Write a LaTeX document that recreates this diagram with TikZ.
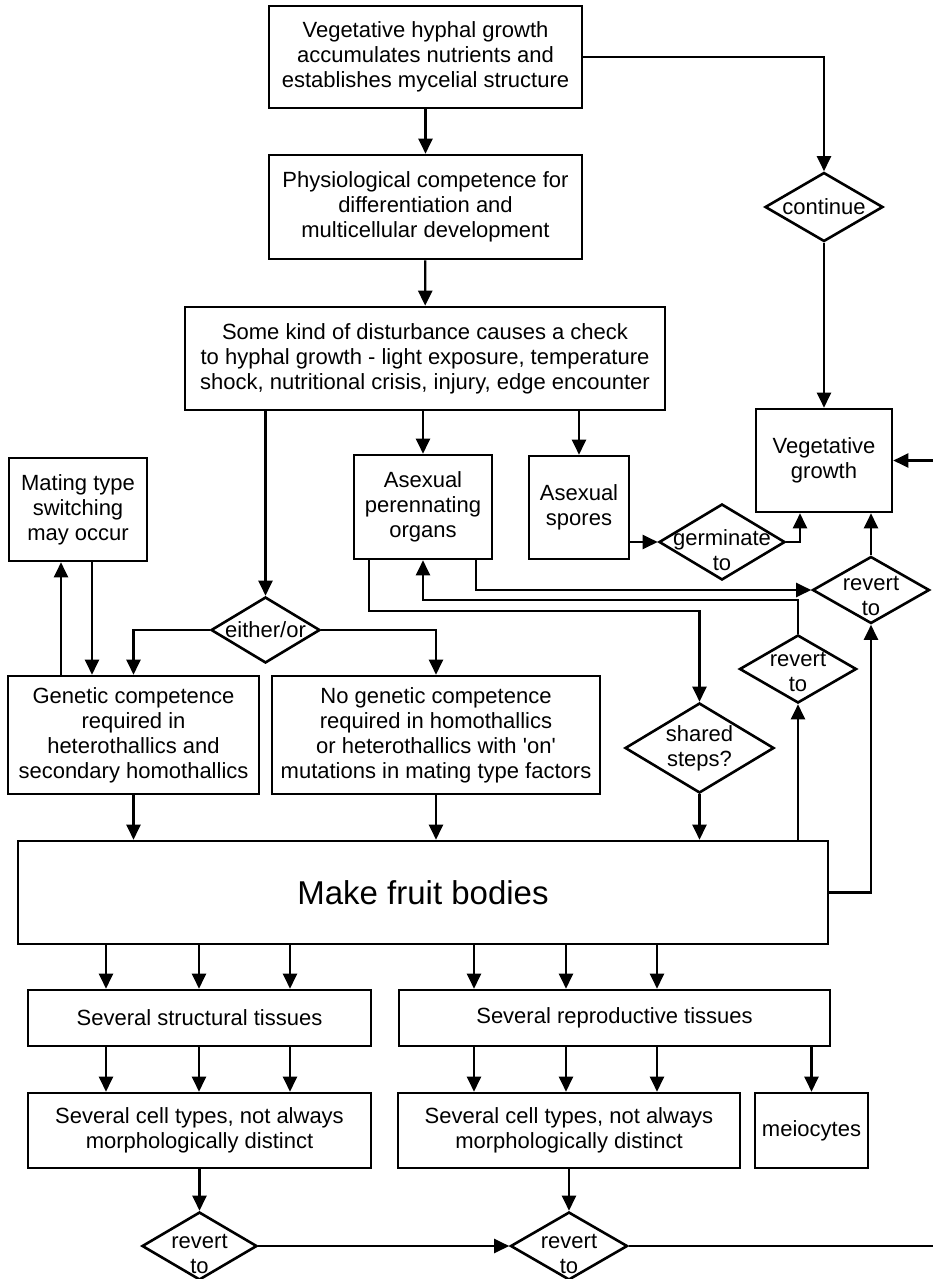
\documentclass[tikz,border=0pt]{standalone}
\usepackage{fontspec}
\setmainfont{Liberation Sans}
\usetikzlibrary{shapes.geometric,arrows.meta}

\begin{document}
\begin{tikzpicture}[x=1pt,y=-1pt,
        font=\fontsize{22}{25}\selectfont,
        box/.style={draw,line width=2.6pt,align=center,inner sep=0pt},
        choice/.style={draw,diamond,line width=2.6pt,inner sep=0pt},
        link/.style={line width=2.2pt,-{Triangle[length=15pt,width=14pt]}},
        every label/.style={align=center,inner sep=0pt}]
    \useasboundingbox (0,0) rectangle (933,1279);
    \clip (0,0) rectangle (933,1279);

    \node[box,minimum width=313pt,minimum height=102pt] (vhg) at (425.5,57) {Vegetative hyphal growth\\accumulates nutrients and\\establishes mycelial structure};
    \node[box,minimum width=313pt,minimum height=104pt] (phys) at (425.5,207) {Physiological competence for\\differentiation and\\multicellular development};
    \node[box,minimum width=480pt,minimum height=103pt] (dist) at (425,358.5) {Some kind of disturbance causes a check\\to hyphal growth - light exposure, temperature\\shock, nutritional crisis, injury, edge encounter};
    \node[box,minimum width=138pt,minimum height=104pt] (perenn) at (423,507) {Asexual\\perennating\\organs};
    \node[box,minimum width=100pt,minimum height=103pt] (spores) at (579,507.5) {Asexual\\spores};
    \node[box,minimum width=136pt,minimum height=103pt] (veg) at (824,460.5) {Vegetative\\growth};
    \node[box,minimum width=138pt,minimum height=103pt] (mating) at (78,509.5) {Mating type\\switching\\may occur};
    \node[box,minimum width=251pt,minimum height=118pt] (gen) at (133.5,735) {Genetic competence\\required in\\heterothallics and\\secondary homothallics};
    \node[box,minimum width=328pt,minimum height=118pt] (nogen) at (436,735) {No genetic competence\\required in homothallics\\or heterothallics with \textquotesingle on\textquotesingle\\mutations in mating type factors};
    \node[box,minimum width=810pt,minimum height=103pt,font=\fontsize{33}{38}\selectfont] (fruit) at (423,892.5) {Make fruit bodies};
    \node[box,minimum width=343pt,minimum height=56pt] (struct) at (199.5,1018) {Several structural tissues};
    \node[box,minimum width=431pt,minimum height=56pt] (repro) at (614.5,1018) {Several reproductive tissues};
    \node[box,minimum width=343pt,minimum height=75pt] (cellA) at (199.5,1130.5) {Several cell types, not always\\morphologically distinct};
    \node[box,minimum width=342pt,minimum height=75pt] (cellB) at (569,1130.5) {Several cell types, not always\\morphologically distinct};
    \node[box,minimum width=113pt,minimum height=75pt] (meio) at (811.5,1130.5) {meiocytes};

    \node[choice,minimum width=118pt,minimum height=69pt,label=center:continue] (cont) at (824,207) {};
    \node[choice,minimum width=126pt,minimum height=76pt,label={[yshift=-8pt]center:germinate\\to}] (germ) at (722,542) {};
    \node[choice,minimum width=117pt,minimum height=67pt,label={[yshift=-6pt]center:revert\\to}] (revA) at (871,590) {};
    \node[choice,minimum width=117pt,minimum height=68pt,label={[yshift=-3pt]center:revert\\to}] (revB) at (798,669) {};
    \node[choice,minimum width=149pt,minimum height=90pt,label={center:shared\\steps?}] (shared) at (699.5,748) {};
    \node[choice,minimum width=109pt,minimum height=66pt,label=center:either/or] (either) at (265.5,630) {};
    \node[choice,minimum width=115pt,minimum height=68pt,label={[yshift=-8pt]center:revert\\to}] (revC) at (199.5,1246) {};
    \node[choice,minimum width=117pt,minimum height=68pt,label={[yshift=-8pt]center:revert\\to}] (revD) at (569,1246) {};
    \coordinate (vegin) at (940,460.5);
    \coordinate (revout) at (940,1246);

    \draw[link] (vhg) -- (phys);
    \draw[link] (phys) -- (dist);
    \draw[link] (vhg.east) -| (cont.north);
    \draw[link] (cont) -- (veg);
    \draw[link] (dist.south -| either) -- (either);
    \draw[link] (dist.south -| perenn) -- (perenn);
    \draw[link] (dist.south -| spores) -- (spores);
    \draw[link] (either.west) -| (gen.north);
    \draw[link] (either.east) -| (nogen.north);
    \draw[link] (61,0 |- gen.north) -- (61,0 |- mating.south);
    \draw[link] (92,0 |- mating.south) -- (92,0 |- gen.north);
    \draw[link] (gen) -- (gen |- fruit.north);
    \draw[link] (nogen) -- (nogen |- fruit.north);
    \draw[link] (shared) -- (shared |- fruit.north);
    \draw[link] (369,0 |- perenn.south) -- ++(0,51) -| (shared.north);
    \draw[link] (476,0 |- perenn.south) |- (revA.west);
    \draw[link] (revB.north) -- ++(0,-34) -| (perenn.south);
    \draw[link] (spores.east |- germ.west) -- (germ.west);
    \draw[link] (germ.east) -| (800,0 |- veg.south);
    \draw[link] (revA) -- (revA |- veg.south);
    \draw[link] (fruit.east) -| (revA.south);
    \draw[link] (revB |- fruit.north) -- (revB.south);
    \draw[link] (vegin) -- (veg.east);

    \foreach \x/\t in {106/struct,199/struct,290/struct,474/repro,566/repro,657/repro}
        \draw[link] (\x,0 |- fruit.south) -- (\x,0 |- \t.north);
    \foreach \x/\t/\c in {106/struct/cellA,199/struct/cellA,290/struct/cellA,474/repro/cellB,566/repro/cellB,657/repro/cellB}
        \draw[link] (\x,0 |- \t.south) -- (\x,0 |- \c.north);
    \draw[link] (meio.north |- repro.south) -- (meio.north);
    \draw[link] (cellA) -- (revC);
    \draw[link] (cellB) -- (revD);
    \draw[link] (revC) -- (revD);
    \draw[line width=2.2pt] (revD.east) -- (revout);
\end{tikzpicture}
\end{document}
